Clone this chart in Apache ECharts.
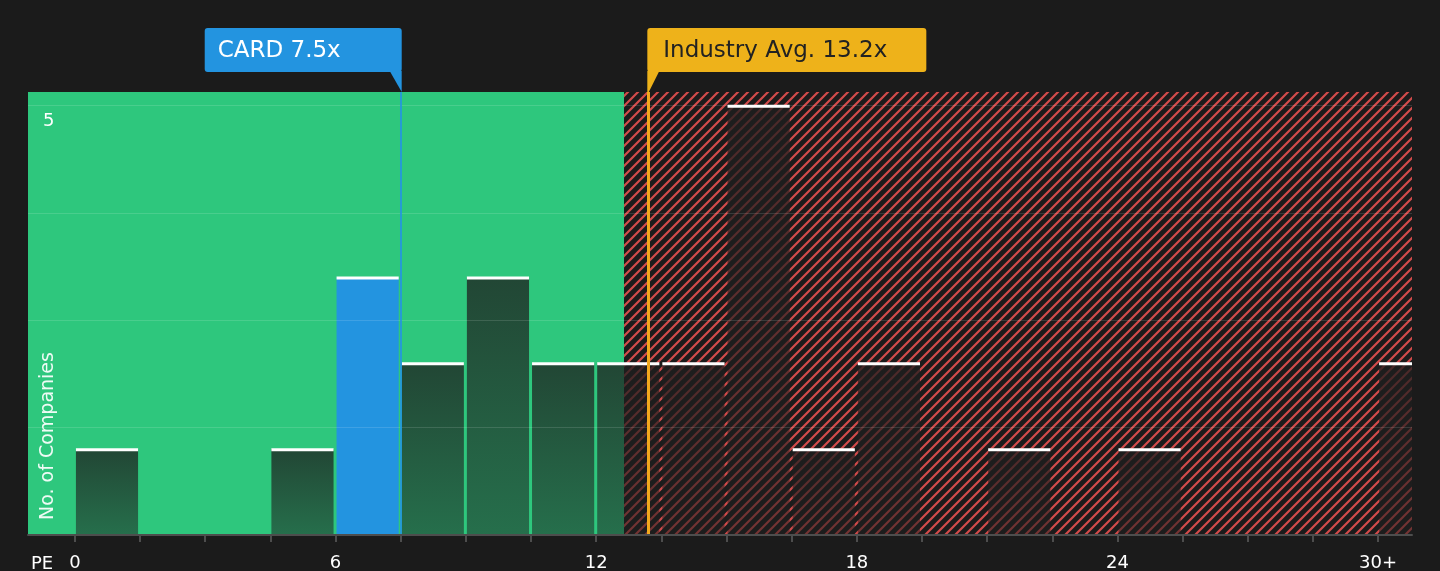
<!DOCTYPE html>
<html>
<head>
<meta charset="utf-8">
<title>CARD PE</title>
<script src="https://cdn.jsdelivr.net/npm/echarts@6/dist/echarts.min.js"></script>
<style>
html, body { margin: 0; padding: 0; background: #1b1b1b; }
#main { width: 1440px; height: 571px; }
</style>
</head>
<body>
<div id="main"></div>
<script>
// histogram bins (start of bin, width 1.5) and company counts
var binStart = [0, 4.5, 6, 7.5, 9, 10.5, 12, 13.5, 15, 16.5, 18, 21, 24, 30];
var binCount = [1, 1, 3, 2, 3, 2, 2, 2, 5, 1, 2, 1, 1, 2];
var binWidth = 1.5;
var cardBin = 6; // bin that holds CARD
var cardPE = 7.5;
var industryPE = 13.2;
var fairLimit = 12.64; // end of green zone
var xMin = -1.08, xMax = 30.78;
var yMax = 5.16;
var tickValues = [0, 1.5, 3, 4.5, 6, 7.5, 9, 10.5, 12, 13.5, 15, 16.5, 18, 19.5, 21, 22.5, 24, 25.5, 27, 28.5, 30];
var labelValues = [0, 6, 12, 18, 24, 30];
var yLabelValues = [5];

var FONT = 'DejaVu Sans';

// hatch tile for the red zone
var T = 10;
var tile = document.createElement('canvas');
tile.width = T;
tile.height = T;
var tc = tile.getContext('2d');
tc.strokeStyle = '#d24b4b';
tc.lineWidth = 2.2;
tc.beginPath();
tc.moveTo(-2, T + 2); tc.lineTo(T + 2, -2);
tc.moveTo(-2, 2); tc.lineTo(2, -2);
tc.moveTo(T - 2, T + 2); tc.lineTo(T + 2, T - 2);
tc.stroke();

var barData = [];
for (var i = 0; i < binStart.length; i++) {
    barData.push([binStart[i], binCount[i]]);
}

function renderBar(params, api) {
    var start = api.value(0);
    var val = api.value(1);
    var p0 = api.coord([start, val]);
    var p1 = api.coord([start + binWidth, 0]);
    var cs = params.coordSys;
    var rect = echarts.graphic.clipRectByRect({
        x: p0[0] + 1, y: p0[1], width: p1[0] - p0[0] - 3, height: p1[1] - p0[1]
    }, { x: cs.x, y: cs.y, width: cs.width, height: cs.height });
    if (!rect) return;
    var fill = start === cardBin ? '#2394e0' : new echarts.graphic.LinearGradient(0, 0, 0, 1, [
        { offset: 0, color: 'rgba(30,30,30,0.76)' },
        { offset: 1, color: 'rgba(30,30,30,0.52)' }
    ]);
    return {
        type: 'group',
        children: [
            { type: 'rect', shape: rect, style: { fill: fill } },
            { type: 'rect', shape: { x: rect.x, y: rect.y - 1, width: rect.width, height: 3 }, style: { fill: '#ffffff' } }
        ]
    };
}

var option = {
    backgroundColor: '#1b1b1b',
    animation: false,
    grid: { left: 28, right: 28, top: 92, bottom: 36, containLabel: false, outerBoundsMode: 'none' },
    xAxis: {
        type: 'value',
        min: xMin,
        max: xMax,
        z: 5,
        axisLine: { show: true, lineStyle: { color: '#4d4d4d', width: 2 } },
        axisTick: { show: true, customValues: tickValues, length: 7, lineStyle: { color: '#4d4d4d', width: 2 } },
        splitLine: { show: false },
        axisLabel: {
            customValues: labelValues,
            color: '#ffffff',
            fontFamily: FONT,
            fontSize: 18,
            margin: 19,
            formatter: function (v) { return v === 30 ? '30+' : String(v); }
        }
    },
    yAxis: {
        type: 'value',
        min: 0,
        max: yMax,
        interval: 1.25,
        z: 5,
        axisLine: { show: false },
        axisTick: { show: false },
        splitLine: { show: true, showMinLine: false, showMaxLine: false, lineStyle: { color: 'rgba(255,255,255,0.13)', width: 1 } },
        axisLabel: {
            inside: true,
            customValues: yLabelValues,
            color: '#ffffff',
            fontFamily: FONT,
            fontSize: 18,
            margin: 15,
            verticalAlign: 'top',
            padding: [7, 0, 0, 0]
        }
    },
    series: [
        {
            type: 'line',
            data: [],
            z: 1,
            silent: true,
            markArea: {
                silent: true,
                label: { show: false },
                data: [
                    [{ xAxis: xMin, itemStyle: { color: '#2ec77d' } }, { xAxis: fairLimit }],
                    [{ xAxis: fairLimit, itemStyle: { color: { image: tile, repeat: 'repeat' } } }, { xAxis: xMax }]
                ]
            },
            markLine: {
                silent: true,
                symbol: 'none',
                label: { show: false },
                data: [
                    { xAxis: cardPE, lineStyle: { color: '#2394e0', width: 2, type: 'solid', opacity: 0.85 } },
                    { xAxis: industryPE, lineStyle: { color: '#f2a81d', width: 3, type: 'solid', opacity: 1 } }
                ]
            }
        },
        {
            type: 'custom',
            z: 2,
            silent: true,
            renderItem: renderBar,
            encode: { x: 0, y: 1 },
            data: barData
        }
    ]
};

var chart = echarts.init(document.getElementById('main'));
chart.setOption(option);

var cardX = chart.convertToPixel({ xAxisIndex: 0 }, cardPE);
var indX = chart.convertToPixel({ xAxisIndex: 0 }, industryPE);
var topY = chart.convertToPixel({ yAxisIndex: 0 }, yMax);
var baseY = chart.convertToPixel({ yAxisIndex: 0 }, 0);
var leftX = chart.convertToPixel({ xAxisIndex: 0 }, xMin);

chart.setOption({
    graphic: [
        // CARD tag
        { type: 'rect', shape: { x: cardX - 196, y: 28, width: 197, height: 44, r: 3 }, style: { fill: '#2394e0' }, z: 20 },
        { type: 'polygon', shape: { points: [[cardX - 11, 71], [cardX + 1, 71], [cardX + 1, topY]] }, style: { fill: '#2394e0' }, z: 20 },
        { type: 'text', x: cardX - 183, y: 51, style: { text: 'CARD 7.5x', fill: '#ffffff', font: '23px "DejaVu Sans"', verticalAlign: 'middle' }, z: 21 },
        // industry tag
        { type: 'rect', shape: { x: indX - 1, y: 28, width: 279, height: 44, r: 3 }, style: { fill: '#eeb21a' }, z: 20 },
        { type: 'polygon', shape: { points: [[indX - 1, 71], [indX + 11, 71], [indX - 1, topY + 3]] }, style: { fill: '#eeb21a' }, z: 20 },
        { type: 'text', x: indX + 15, y: 51, style: { text: 'Industry Avg. 13.2x', fill: '#222222', font: '23px "DejaVu Sans"', verticalAlign: 'middle' }, z: 21 },
        // axis names
        { type: 'text', x: leftX + 20, y: baseY - 15, rotation: Math.PI / 2, style: { text: 'No. of Companies', fill: 'rgba(255,255,255,0.92)', font: '19px "DejaVu Sans"', verticalAlign: 'middle', align: 'left' }, z: 21 },
        { type: 'text', x: 31, y: 564, style: { text: 'PE', fill: '#ffffff', font: '18px "DejaVu Sans"', verticalAlign: 'middle' }, z: 21 }
    ]
});
</script>
</body>
</html>
